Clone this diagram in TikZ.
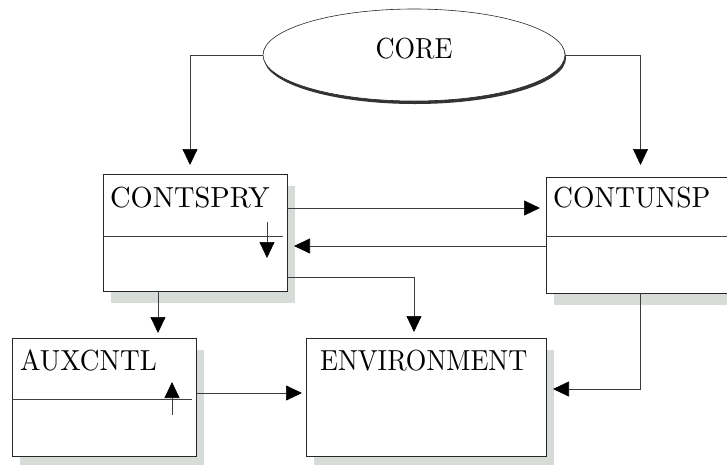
\documentclass[tikz,border=0pt]{standalone}
\usepackage{fontspec}
\setmainfont{lmroman10-regular}[Extension=.otf]
\usetikzlibrary{arrows.meta,shapes.geometric,shadows}
\definecolor{shadowgray}{RGB}{216,220,216}
\definecolor{linegray}{RGB}{60,60,60}

\begin{document}
\begin{tikzpicture}[x=1pt, y=-1pt, >={Triangle[length=16pt,width=15pt,color=black]},
  module/.style={rectangle, draw=black!85, line width=0.8pt, fill=white, inner sep=0pt, outer sep=0pt,
    drop shadow={shadow xshift=8pt, shadow yshift=-12pt, fill=shadowgray, opacity=1}},
  boxtitle/.style={font=\fontsize{29}{34}\selectfont, inner sep=0pt, anchor=base west},
  link/.style={->, draw=linegray, line width=0.7pt},
  divider/.style={draw=black!75, line width=0.7pt}]
  \useasboundingbox (0,0) rectangle (727,464);
  \clip (0,0) rectangle (727,464);
  % Core (ellipse with dark shadow)
  \node[ellipse, draw=black!85, line width=0.6pt, fill=white, minimum width=302pt, minimum height=92pt,
    inner sep=0pt, drop shadow={shadow xshift=1pt, shadow yshift=-3pt, fill=black!80, opacity=1}] (core) at (414,55) {};
  \node[boxtitle, anchor=base, xscale=0.91] (core-t) at (414,58) {CORE};
  % Modules
  \node[module, minimum width=184pt, minimum height=117pt] (contspry) at (195,232.5) {};
  \node[module, minimum width=189pt, minimum height=116pt] (contunsp) at (640.5,235) {};
  \node[module, minimum width=184pt, minimum height=118pt] (auxcntl) at (104,397) {};
  \node[module, minimum width=240pt, minimum height=118pt] (env) at (426,397) {};
  % Titles
  \node[boxtitle, xscale=0.98] (contspry-t) at ([xshift=7pt,yshift=-33pt]contspry.north west) {CONTSPRY};
  \node[boxtitle, xscale=0.95] (contunsp-t) at ([xshift=7pt,yshift=-30pt]contunsp.north west) {CONTUNSP};
  \node[boxtitle, xscale=0.94] (auxcntl-t) at ([xshift=8pt,yshift=-32pt]auxcntl.north west) {AUXCNTL};
  \node[boxtitle, xscale=0.91] (env-t) at ([xshift=14pt,yshift=-32pt]env.north west) {ENVIRONMENT};
  % Dividers
  \draw[divider] ([yshift=-3.5pt]contspry.west) -- ([xshift=-4pt,yshift=-3.5pt]contspry.east);
  \draw[divider] ([yshift=-1pt]contunsp.west) -- ([yshift=-1pt]contunsp.east);
  \draw[divider] ([yshift=-2pt]auxcntl.west) -- ([xshift=-4pt,yshift=-2pt]auxcntl.east);
  % Inner arrows
  \coordinate (spry-in) at ([xshift=-20pt,yshift=10.5pt]contspry.east);
  \coordinate (spry-out) at ([xshift=-20pt,yshift=-25.5pt]contspry.east);
  \draw[link] (spry-in) -- (spry-out);
  \coordinate (aux-in) at ([xshift=-24pt,yshift=-18pt]auxcntl.east);
  \coordinate (aux-out) at ([xshift=-24pt,yshift=15pt]auxcntl.east);
  \draw[link] (aux-in) -- (aux-out);
  % Core to modules
  \draw[link, shorten >=9pt] (core.west) -| ([xshift=-5pt]contspry.north);
  \draw[link, shorten >=12pt] (core.east) -| (contunsp.north);
  % Between the two controllers
  \draw[link, shorten >=6pt] ([yshift=24.5pt]contspry.east) -- ([yshift=24.5pt]contspry.east -| contunsp.west);
  \draw[link, shorten >=7pt] ([yshift=-11pt]contunsp.west) -- ([yshift=-11pt]contunsp.west -| contspry.east);
  % Into the environment
  \draw[link, shorten >=6pt] ([yshift=-44.5pt]contspry.east) -| ([xshift=-12pt]env.north);
  \draw[link, shorten >=5pt] ([xshift=-37pt]contspry.south) -- ([xshift=-37pt]contspry.south |- auxcntl.north);
  \draw[link, shorten >=7pt] (contunsp.south) |- ([yshift=8pt]env.east);
  \draw[link, shorten >=4pt] ([yshift=4pt]auxcntl.east) -- ([yshift=4pt]auxcntl.east -| env.west);
\end{tikzpicture}
\end{document}
